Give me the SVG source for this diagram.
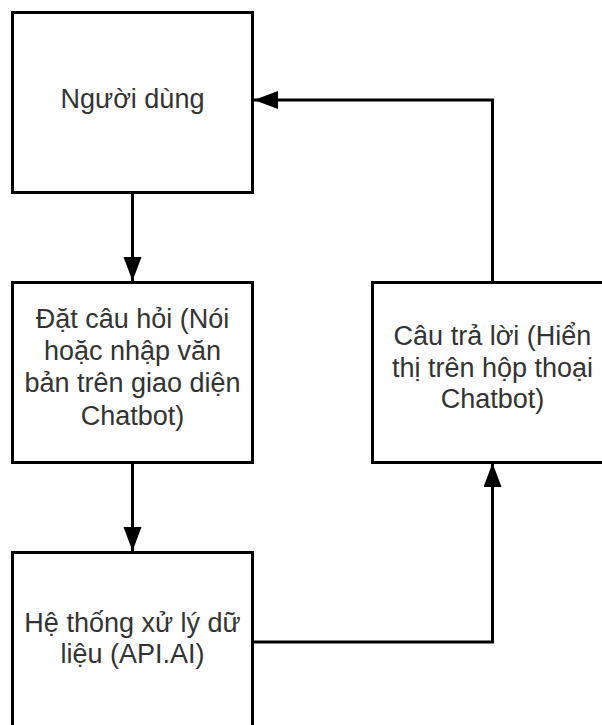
<svg xmlns="http://www.w3.org/2000/svg" width="602" height="725" viewBox="0 0 602 725">
  <style>
    .box { fill: #ffffff; stroke: #000000; stroke-width: 3; }
    .lbl { font-family: "Liberation Sans", Arial, sans-serif; font-size: 27px; fill: #333333; text-anchor: middle; }
    .edge { fill: none; stroke: #000000; stroke-width: 3; }
  </style>
  <defs>
    <marker id="arrow" markerUnits="userSpaceOnUse" markerWidth="26" markerHeight="20" refX="24" refY="9" orient="auto">
      <path d="M0,0 L24,9 L0,18 Z" fill="#000000"/>
    </marker>
  </defs>
  <rect x="0" y="0" width="602" height="725" fill="#ffffff"/>

  <g id="connectors">
    <path class="edge" d="M132.5,192 L132.5,281" marker-end="url(#arrow)"/>
    <path class="edge" d="M132.5,462 L132.5,551" marker-end="url(#arrow)"/>
    <path class="edge" d="M253,642 L492.5,642 L492.5,463" marker-end="url(#arrow)"/>
    <path class="edge" d="M492.5,282 L492.5,100 L254,100" marker-end="url(#arrow)"/>
  </g>

  <g id="nguoi-dung">
    <rect class="box" x="12.5" y="12.5" width="240" height="180"/>
    <text class="lbl" x="132.5" y="108">Người dùng</text>
  </g>

  <g id="dat-cau-hoi">
    <rect class="box" x="12.5" y="282.5" width="240" height="180"/>
    <text class="lbl" x="132.5" y="328">Đặt câu hỏi (Nói</text>
    <text class="lbl" x="132.5" y="360">hoặc nhập văn</text>
    <text class="lbl" x="132.5" y="392">bản trên giao diện</text>
    <text class="lbl" x="132.5" y="425">Chatbot)</text>
  </g>

  <g id="he-thong">
    <rect class="box" x="12.5" y="552.5" width="240" height="180"/>
    <text class="lbl" x="132.5" y="632">Hệ thống xử lý dữ</text>
    <text class="lbl" x="132.5" y="663">liệu (API.AI)</text>
  </g>

  <g id="cau-tra-loi">
    <rect class="box" x="372.5" y="282.5" width="240" height="180"/>
    <text class="lbl" x="492.5" y="345">Câu trả lời (Hiển</text>
    <text class="lbl" x="492.5" y="377">thị trên hộp thoại</text>
    <text class="lbl" x="492.5" y="408">Chatbot)</text>
  </g>
</svg>
